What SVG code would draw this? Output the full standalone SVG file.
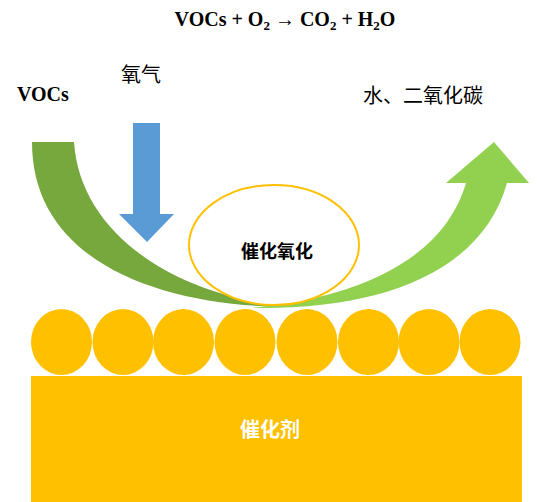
<svg xmlns="http://www.w3.org/2000/svg" width="537" height="502" viewBox="0 0 537 502">
<style>
.t{font-family:"Liberation Serif","Times New Roman",serif;font-weight:bold;fill:#000}
.c{font-family:"Liberation Serif","Noto Sans CJK SC",serif;fill:#000}
.ball{fill:#FFC000}
</style>
<rect width="537" height="502" fill="#fff"/>
<g id="connectors">
<path id="voc-flow" d="M32,142 L74,142 C80,232 172,296 292,307 C160,307 32,262 32,142 Z" fill="#76A83E"/>
<path id="product-flow" d="M466,183 C446,252 372,296 252,308 C382,310 482,272 507,183 L529,183 L494,142 L446,183 Z" fill="#92D050"/>
<path id="oxygen-arrow" d="M133,123 L160,123 L160,214 L174,214 L147,242 L119,214 L133,214 Z" fill="#5B9BD5"/>
</g>
<g id="reaction">
<ellipse cx="274" cy="245" rx="85" ry="60" fill="#fff" stroke="#FFC000" stroke-width="2"/>
<text class="c" x="277" y="258" font-size="18" font-weight="bold" text-anchor="middle">催化氧化</text>
</g>
<g id="particles">
<ellipse class="ball" cx="61.5" cy="342" rx="30.5" ry="33"/>
<ellipse class="ball" cx="123" cy="342" rx="30.5" ry="33"/>
<ellipse class="ball" cx="183.5" cy="342" rx="30.5" ry="33"/>
<ellipse class="ball" cx="245" cy="342" rx="30.5" ry="33"/>
<ellipse class="ball" cx="307" cy="342" rx="30.5" ry="33"/>
<ellipse class="ball" cx="368.5" cy="342" rx="30.5" ry="33"/>
<ellipse class="ball" cx="429" cy="342" rx="30.5" ry="33"/>
<ellipse class="ball" cx="490" cy="342" rx="30.5" ry="33"/>
</g>
<g id="catalyst">
<rect x="31" y="376" width="491" height="126" fill="#FFC000"/>
<text class="c" x="270" y="437" font-size="20" font-weight="bold" style="fill:#fff" text-anchor="middle">催化剂</text>
</g>
<g id="labels">
<text class="t" x="285" y="26" font-size="20" text-anchor="middle">VOCs + O<tspan font-size="13" dy="4">2</tspan><tspan dy="-4"> → CO</tspan><tspan font-size="13" dy="4">2</tspan><tspan dy="-4"> + H</tspan><tspan font-size="13" dy="4">2</tspan><tspan dy="-4">O</tspan></text>
<text class="t" x="17" y="101" font-size="20">VOCs</text>
<text class="c" x="121" y="82" font-size="20">氧气</text>
<text class="c" x="363" y="103" font-size="20">水、二氧化碳</text>
</g>
</svg>
